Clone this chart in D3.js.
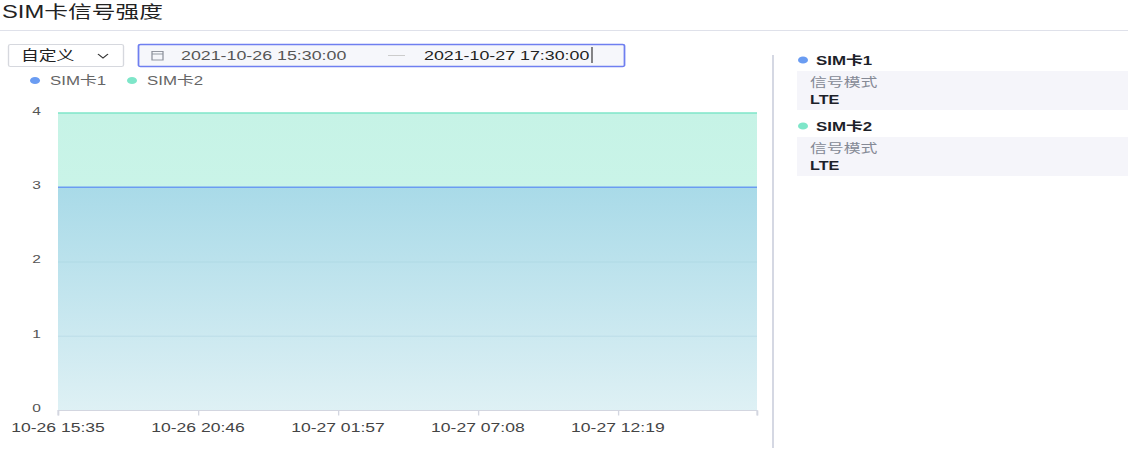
<!DOCTYPE html>
<html>
<head>
<meta charset="utf-8">
<script src="https://cdn.jsdelivr.net/npm/d3@7"></script>
<style>
  html, body { margin: 0; padding: 0; background: #fff; overflow: hidden; }
  svg { display: block; }
  text { font-family: "Liberation Sans", "Noto Sans CJK SC", sans-serif; }
</style>
</head>
<body>
<div id="chart"></div>
<script>
// chart values
const seriesNames = ['SIM卡1', 'SIM卡2'];
const seriesColors = ['#6a9cf2', '#7ee6c9'];
const times = ['2021-10-26 15:35', '2021-10-26 20:46', '2021-10-27 01:57', '2021-10-27 07:08', '2021-10-27 12:19', '2021-10-27 17:28'];
const sim1Values = [3, 3, 3, 3, 3, 3];
const sim2Values = [4, 4, 4, 4, 4, 4];
const xTickLabels = ['10-26 15:35', '10-26 20:46', '10-27 01:57', '10-27 07:08', '10-27 12:19'];
const yTicks = [0, 1, 2, 3, 4];
const signalModes = ['LTE', 'LTE'];
const rangeStart = '2021-10-26 15:30:00';
const rangeEnd = '2021-10-27 17:30:00';

// the picture is stretched sideways, so draw in a narrower box and stretch it
const S = 1.35;
const W = 1128, H = 451;
const sx = v => v / S;

const svg = d3.select('#chart').append('svg')
  .attr('width', W).attr('height', H)
  .attr('viewBox', `0 0 ${W / S} ${H}`)
  .attr('preserveAspectRatio', 'none');

const parse = d3.timeParse('%Y-%m-%d %H:%M');

//header
svg.append('text').attr('x', sx(2)).attr('y', 18.5)
  .attr('font-size', 17.6).attr('fill', '#222').text('SIM卡信号强度');
svg.append('line').attr('x1', 0).attr('x2', W / S).attr('y1', 30.5).attr('y2', 30.5)
  .attr('stroke', '#dfe1ea');

//dropdown
svg.append('rect').attr('x', sx(8.5)).attr('y', 44.5).attr('width', sx(115)).attr('height', 22)
  .attr('fill', '#fff').attr('stroke', '#d6d8de').attr('rx', 1.5);
svg.append('text').attr('x', sx(21)).attr('y', 60.5).attr('font-size', 13.2).attr('fill', '#222').text('自定义');
svg.append('path')
  .attr('d', `M${sx(98)},54 L${sx(103)},58 L${sx(108)},54`)
  .attr('fill', 'none').attr('stroke', '#333').attr('stroke-width', 1.1);

//date range box
svg.append('rect').attr('x', sx(138.5)).attr('y', 44.5).attr('width', sx(486)).attr('height', 22)
  .attr('fill', '#f6f7fb').attr('stroke', '#6f7ff0').attr('stroke-width', 1.3).attr('rx', 1.5);
const cal = svg.append('g').attr('stroke', '#8a8f99').attr('fill', 'none').attr('stroke-width', 0.9);
cal.append('rect').attr('x', sx(152)).attr('y', 51.5).attr('width', sx(11)).attr('height', 8.5);
cal.append('line').attr('x1', sx(152)).attr('x2', sx(163)).attr('y1', 54).attr('y2', 54);
svg.append('text').attr('x', sx(181)).attr('y', 60).attr('font-size', 13.2).attr('fill', '#555').text(rangeStart);
svg.append('line').attr('x1', sx(388)).attr('x2', sx(405)).attr('y1', 55.5).attr('y2', 55.5).attr('stroke', '#ccc');
svg.append('text').attr('x', sx(424)).attr('y', 60).attr('font-size', 13.2).attr('fill', '#222').text(rangeEnd);
svg.append('line').attr('x1', sx(592)).attr('x2', sx(592)).attr('y1', 47).attr('y2', 63).attr('stroke', '#222').attr('stroke-width', 0.8);

//legend
const legendX = [35, 132];
seriesNames.forEach((name, i) => {
  svg.append('ellipse').attr('cx', sx(legendX[i])).attr('cy', 80.5)
    .attr('rx', sx(5)).attr('ry', 3.6).attr('fill', seriesColors[i]);
  svg.append('text').attr('x', sx(legendX[i] + 15)).attr('y', 85.5)
    .attr('font-size', 12.5).attr('fill', '#666').text(name);
});

//scales
const x = d3.scaleTime()
  .domain([parse(times[0]), parse(times[times.length - 1])])
  .range([sx(58), sx(757)]);
const y = d3.scaleLinear().domain([0, 4]).range([410, 113]);

const rows = times.map((t, i) => ({t: parse(t), a: sim1Values[i], b: sim2Values[i]}));

//gradients for the fills
const defs = svg.append('defs');
const g1 = defs.append('linearGradient').attr('id', 'g1').attr('x1', 0).attr('x2', 0).attr('y1', 0).attr('y2', 1);
g1.append('stop').attr('offset', '0%').attr('stop-color', '#a6d8e8');
g1.append('stop').attr('offset', '100%').attr('stop-color', '#dff0f5');
const g2 = defs.append('linearGradient').attr('id', 'g2').attr('x1', 0).attr('x2', 0).attr('y1', 0).attr('y2', 1);
g2.append('stop').attr('offset', '0%').attr('stop-color', '#c6f3e6');
g2.append('stop').attr('offset', '100%').attr('stop-color', '#d4f7ee');

//grid
svg.append('g').selectAll('line').data(yTicks.slice(1)).join('line')
  .attr('x1', sx(58)).attr('x2', sx(757))
  .attr('y1', d => y(d) + 0.5).attr('y2', d => y(d) + 0.5)
  .attr('stroke', '#e4e6ee');

//areas
svg.append('path').datum(rows)
  .attr('d', d3.area().x(d => x(d.t)).y0(y(0)).y1(d => y(d.b)))
  .attr('fill', 'url(#g2)');
svg.append('path').datum(rows)
  .attr('d', d3.area().x(d => x(d.t)).y0(y(0)).y1(d => y(d.a)))
  .attr('fill', 'url(#g1)').attr('fill-opacity', 0.92);

//faint grid through the area
svg.append('g').selectAll('line').data(yTicks.slice(1, 3)).join('line')
  .attr('x1', sx(58)).attr('x2', sx(757))
  .attr('y1', d => y(d) + 0.5).attr('y2', d => y(d) + 0.5)
  .attr('stroke', '#9fc8d8').attr('stroke-opacity', 0.35);

//lines
svg.append('path').datum(rows)
  .attr('d', d3.line().x(d => x(d.t)).y(d => y(d.b)))
  .attr('fill', 'none').attr('stroke', seriesColors[1]).attr('stroke-width', 1.6);
svg.append('path').datum(rows)
  .attr('d', d3.line().x(d => x(d.t)).y(d => y(d.a)))
  .attr('fill', 'none').attr('stroke', seriesColors[0]).attr('stroke-width', 1.6);

//y axis labels
svg.append('g').selectAll('text').data(yTicks).join('text')
  .attr('x', sx(41)).attr('y', d => y(d) + 2)
  .attr('text-anchor', 'end').attr('font-size', 11.5).attr('fill', '#555')
  .text(d => d);

//x axis
const tickDates = xTickLabels.map(l => parse('2021-' + l));
const xAxis = svg.append('g').attr('transform', `translate(0,${y(0) + 0.5})`)
  .call(d3.axisBottom(x).tickValues(tickDates.concat([x.domain()[1]])).tickSize(5).tickFormat(''));
xAxis.select('.domain').attr('stroke', '#d3d6e0').attr('d', `M${sx(58)},5V0H${sx(757)}V5`);
xAxis.selectAll('.tick line').attr('stroke', '#d3d6e0');
svg.append('g').selectAll('text').data(tickDates).join('text')
  .attr('x', d => x(d)).attr('y', 432)
  .attr('text-anchor', 'middle').attr('font-size', 13).attr('fill', '#444')
  .text((d, i) => xTickLabels[i]);

//divider
svg.append('line').attr('x1', sx(773)).attr('x2', sx(773)).attr('y1', 55).attr('y2', 448)
  .attr('stroke', '#d3d6e2').attr('stroke-width', 1.4);

//right panel
const panelY = [60, 126];
seriesNames.forEach((name, i) => {
  const top = panelY[i];
  svg.append('ellipse').attr('cx', sx(803)).attr('cy', top).attr('rx', sx(5)).attr('ry', 3.6).attr('fill', seriesColors[i]);
  svg.append('text').attr('x', sx(816)).attr('y', top + 5).attr('font-size', 12.5)
    .attr('font-weight', 'bold').attr('fill', '#1d2129').text(name);
  svg.append('rect').attr('x', sx(797)).attr('y', top + 11).attr('width', sx(1128 - 797)).attr('height', 39)
    .attr('fill', '#f5f5fa');
  svg.append('text').attr('x', sx(810)).attr('y', top + 27.5).attr('font-size', 12.5)
    .attr('fill', '#858a96').text('信号模式');
  svg.append('text').attr('x', sx(810)).attr('y', top + 44).attr('font-size', 12)
    .attr('font-weight', 'bold').attr('fill', '#1d2129').text(signalModes[i]);
});
</script>
</body>
</html>
